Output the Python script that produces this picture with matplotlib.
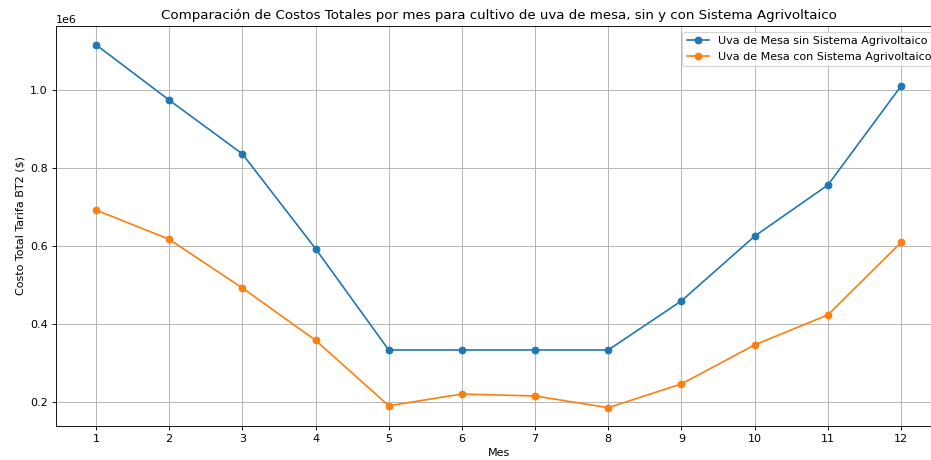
import matplotlib
matplotlib.use("Agg")
import matplotlib.pyplot as plt

# monthly total cost, table grape, BT2 tariff
meses = [1, 2, 3, 4, 5, 6, 7, 8, 9, 10, 11, 12]
costo_sin = [1117000, 975000, 837000, 594000, 334000, 334000, 334000, 334000,
             460000, 626000, 757000, 1011000]
costo_con = [693000, 618000, 493000, 359000, 191000, 221000, 216000, 186000,
             247000, 347000, 424000, 610000]

# the original looks like a bigger figure shrunk down, so render at 80 dpi
fig = plt.figure(figsize=(931 / 80, 460 / 80), dpi=80)
ax = fig.add_axes([0.0598, 0.0739, 0.9513, 0.8696])

ax.plot(meses, costo_sin, marker='o', label='Uva de Mesa sin Sistema Agrivoltaico')
ax.plot(meses, costo_con, marker='o', label='Uva de Mesa con Sistema Agrivoltaico')

ax.set_title('Comparación de Costos Totales por mes para cultivo de uva de mesa, sin y con Sistema Agrivoltaico')
ax.set_xlabel('Mes')
ax.set_ylabel('Costo Total Tarifa BT2 (\\$)')
ax.set_xticks(meses)
ax.set_ylim(139000, 1165000)
ax.legend(loc='upper right')
ax.grid(True)

fig.savefig('out.png', dpi=80)
